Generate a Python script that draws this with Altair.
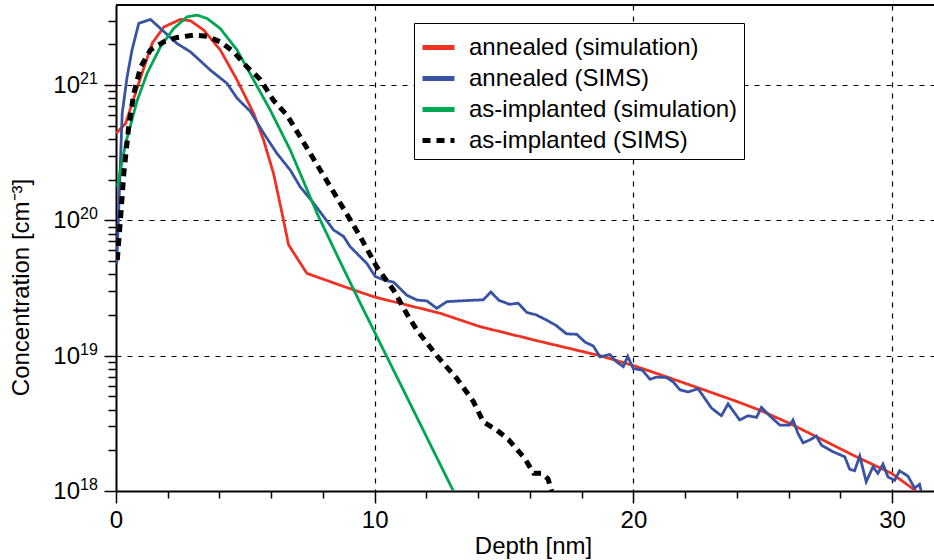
import altair as alt
import pandas as pd

# ---------------- data ----------------
series_names = ["annealed (simulation)", "annealed (SIMS)",
                "as-implanted (simulation)", "as-implanted (SIMS)"]
series_colors = ["#ed3224", "#3953a4", "#00a651", "#000000"]
series_dashes = [[1, 0], [1, 0], [1, 0], [8, 6]]

red_depth = [0.0, 0.37, 0.62, 1.01, 1.40, 1.85, 2.49, 2.88, 3.39, 4.03, 4.68,
             5.32, 5.71, 6.09, 6.42, 6.67, 7.38, 8.7, 9.98, 12.53, 14.07, 16.5,
             18.71, 19.97, 21.28, 22.57, 23.85, 24.88, 26.04, 27.2, 28.49,
             29.98, 30.93]
red_conc = [4.4e20, 5.2e20, 7.3e20, 1.23e21, 2.04e21, 2.69e21, 3.06e21,
            2.99e21, 2.55e21, 1.82e21, 1.09e21, 6.2e20, 3.9e20, 2.22e20,
            1.13e20, 6.6e19, 4.06e19, 3.3e19, 2.72e19, 2.06e19, 1.64e19,
            1.26e19, 1.0e19, 8.5e18, 6.98e18, 5.73e18, 4.7e18, 3.96e18,
            3.16e18, 2.45e18, 1.84e18, 1.35e18, 1.0e18]

blue_depth = [0.03, 0.24, 0.43, 0.62, 0.88, 1.33, 1.72, 2.36, 2.88, 3.65, 4.29,
              4.68, 5.19, 5.71, 6.22, 6.74, 7.12, 7.64, 8.41, 8.8, 9.05, 9.7,
              10.02, 10.4, 10.73, 11.24, 11.63, 12.02, 12.4, 12.79, 13.43,
              14.2, 14.49, 14.8, 15.2, 15.55, 15.88, 16.23, 16.65, 17.0, 17.42,
              17.81, 18.13, 18.45, 18.71, 19.09, 19.35, 19.61, 19.78, 19.99,
              20.35, 20.64, 20.9, 21.28, 21.54, 21.8, 22.12, 22.5, 23.02, 23.4,
              23.66, 24.11, 24.43, 24.76, 24.95, 25.27, 25.66, 26.04, 26.17,
              26.36, 26.56, 26.81, 27.07, 27.27, 27.72, 28.17, 28.36, 28.55,
              28.75, 29.0, 29.26, 29.45, 29.65, 29.84, 30.1, 30.29, 30.61,
              30.87, 31.06, 31.13]
blue_conc = [4.8e19, 6.2e20, 1.15e21, 1.82e21, 2.86e21, 3.06e21, 2.62e21,
             2.03e21, 1.76e21, 1.29e21, 1.03e21, 8.0e20, 6.4e20, 4.4e20,
             3.13e20, 2.35e20, 1.77e20, 1.34e20, 8.5e19, 7.6e19, 6.4e19,
             4.8e19, 3.85e19, 3.6e19, 3.5e19, 2.8e19, 2.58e19, 2.54e19,
             2.24e19, 2.51e19, 2.55e19, 2.59e19, 2.96e19, 2.57e19, 2.4e19,
             2.44e19, 2.09e19, 2.01e19, 1.83e19, 1.68e19, 1.45e19, 1.44e19,
             1.26e19, 1.18e19, 9.8e18, 1.02e19, 9.0e18, 8.3e18, 9.9e18,
             8.05e18, 7.8e18, 6.7e18, 6.95e18, 6.9e18, 6.4e18, 5.6e18, 5.4e18,
             5.7e18, 4.1e18, 3.6e18, 4.4e18, 3.35e18, 3.6e18, 3.5e18, 4.15e18,
             3.6e18, 3.07e18, 3.07e18, 3.35e18, 2.67e18, 2.27e18, 2.38e18,
             2.55e18, 2.18e18, 1.95e18, 1.79e18, 1.45e18, 1.41e18, 1.81e18,
             1.17e18, 1.51e18, 1.35e18, 1.58e18, 1.27e18, 1.2e18, 1.41e18,
             1.29e18, 1.05e18, 1.12e18, 9.9e17]

green_depth = [0.05, 0.37, 0.82, 1.2, 1.72, 2.23, 2.75, 3.14, 3.52, 4.03, 4.68,
               5.32, 5.97, 6.74, 7.77, 8.6, 9.44, 11.11, 13.04]
green_conc = [1.78e20, 3.7e20, 7.7e20, 1.22e21, 1.92e21, 2.62e21, 3.2e21,
              3.29e21, 3.11e21, 2.62e21, 1.82e21, 1.09e21, 6.5e20, 3.3e20,
              1.13e20, 5.25e19, 2.45e19, 5.57e18, 1.0e18]

black_depth = [0.05, 0.17, 0.3, 0.49, 0.69, 0.95, 1.33, 1.85, 2.36, 3.0, 3.52,
               4.03, 4.55, 5.07, 5.58, 6.09, 6.61, 7.12, 7.9, 8.67, 9.44,
               10.09, 10.73, 11.24, 11.63, 12.4, 13.17, 13.81, 14.2, 14.72,
               15.17, 15.8, 16.15, 16.45, 16.7, 16.84]
black_conc = [5.1e19, 1.0e20, 2.2e20, 4.9e20, 8.7e20, 1.36e21, 1.82e21,
              2.09e21, 2.25e21, 2.34e21, 2.3e21, 2.09e21, 1.76e21, 1.36e21,
              1.1e21, 7.7e20, 6.0e20, 4.15e20, 2.35e20, 1.34e20, 7.6e19,
              4.5e19, 3.05e19, 2.04e19, 1.55e19, 1.0e19, 6.8e18, 4.6e18,
              3.24e18, 2.82e18, 2.4e18, 1.74e18, 1.35e18, 1.35e18, 1.23e18,
              1.0e18]

x_tick_values = [0, 2, 4, 6, 8, 10, 12, 14, 16, 18, 20, 22, 24, 26, 28, 30]
y_tick_values = [1e18, 2e18, 3e18, 4e18, 5e18, 6e18, 7e18, 8e18, 9e18,
                 1e19, 2e19, 3e19, 4e19, 5e19, 6e19, 7e19, 8e19, 9e19,
                 1e20, 2e20, 3e20, 4e20, 5e20, 6e20, 7e20, 8e20, 9e20,
                 1e21, 2e21, 3e21]
y_label_values = [1e18, 1e19, 1e20, 1e21]
y_label_base = ["10", "10", "10", "10"]
y_label_exp = ["18", "19", "20", "21"]

# ---------------- build tables ----------------
rows = []
for name, xs, ys in zip(series_names,
                        [red_depth, blue_depth, green_depth, black_depth],
                        [red_conc, blue_conc, green_conc, black_conc]):
    for i, (x, y) in enumerate(zip(xs, ys)):
        rows.append({"series": name, "depth": x, "conc": y, "idx": i})
df = pd.DataFrame(rows)

labels_df = pd.DataFrame({"conc": y_label_values, "base": y_label_base,
                          "exp": y_label_exp})

W, H = 818, 486
FONT = "Liberation Sans"

xscale = alt.Scale(domain=[0, 31.62], nice=False, zero=False)
yscale = alt.Scale(type="log", domain=[1e18, 3.91e21], nice=False)

major_x = "datum.value % 10 == 0"
major_y = "abs(log(datum.value)/LN10 - round(log(datum.value)/LN10)) < 0.001"

x_axis = alt.Axis(
    values=x_tick_values, title="Depth [nm]",
    labelExpr="datum.value % 10 == 0 ? datum.label : ''",
    tickSize={"condition": {"test": major_x, "value": 12}, "value": 7},
    grid=True,
    gridOpacity={"condition": {"test": major_x + " && datum.value > 0", "value": 1}, "value": 0},
    gridDash=[5, 6], gridColor="black", gridWidth=1.2,
    domainColor="black", domainWidth=2, tickColor="black", tickWidth=1.5,
    labelFont=FONT, labelFontSize=24, labelColor="black", labelPadding=5,
    titleFont=FONT, titleFontSize=24, titleFontWeight="normal", titleColor="black",
    titlePadding=2, titleX=417, labelFlush=False,
)
y_axis = alt.Axis(
    values=y_tick_values, title="Concentration [cm⁻³]", labels=False,
    tickSize={"condition": {"test": major_y, "value": 12}, "value": 8},
    grid=True,
    gridOpacity={"condition": {"test": major_y + " && datum.value > 2e18", "value": 1}, "value": 0},
    gridDash=[5, 6], gridColor="black", gridWidth=1.2,
    domainColor="black", domainWidth=2, tickColor="black", tickWidth=1.5,
    titleFont=FONT, titleFontSize=24, titleFontWeight="normal", titleColor="black",
    titlePadding=70, titleY=282,
)

legend = alt.Legend(
    orient="none", legendX=298, legendY=18, title=None,
    labelFont=FONT, labelFontSize=24, labelColor="black",
    symbolType="stroke", symbolSize=1024, symbolStrokeWidth=5,
    strokeColor="black", fillColor="white", padding=6,
    rowPadding=0, labelOffset=12, labelLimit=400)

color_enc = alt.Color("series:N",
                      scale=alt.Scale(domain=series_names, range=series_colors),
                      legend=legend)
dash_enc = alt.StrokeDash("series:N",
                          scale=alt.Scale(domain=series_names, range=series_dashes),
                          legend=legend)

base = alt.Chart(df).encode(
    x=alt.X("depth:Q", scale=xscale, axis=x_axis),
    y=alt.Y("conc:Q", scale=yscale, axis=y_axis),
    color=color_enc,
    strokeDash=dash_enc,
    order="idx:Q",
)

solid = base.transform_filter(
    alt.FieldOneOfPredicate(field="series", oneOf=series_names[:3])
).mark_line(clip=True, strokeWidth=2.8)

dashed = base.transform_filter(
    alt.FieldEqualPredicate(field="series", equal=series_names[3])
).mark_line(clip=True, strokeWidth=5)

top_border = alt.Chart(pd.DataFrame({"k": [0]})).mark_rule(
    color="black", strokeWidth=2).encode(
    x=alt.value(0), x2=alt.value(W), y=alt.value(0))

lab_base = alt.Chart(labels_df).mark_text(
    align="right", baseline="middle", font=FONT, fontSize=24, color="black",
    dy=1).encode(
    x=alt.value(-36), y=alt.Y("conc:Q", scale=yscale, axis=y_axis), text="base:N")
lab_exp = alt.Chart(labels_df).mark_text(
    align="left", baseline="middle", font=FONT, fontSize=16, color="black",
    dy=-6).encode(
    x=alt.value(-36), y=alt.Y("conc:Q", scale=yscale, axis=y_axis), text="exp:N")

chart = alt.layer(solid, dashed, top_border, lab_base, lab_exp).properties(
    width=W, height=H,
    autosize=alt.AutoSizeParams(type="none"),
    padding={"left": 116, "top": 5, "right": 0, "bottom": 69},
    background="white",
).configure_view(stroke=None)

chart.save("out.html", embed_options={"renderer": "svg", "actions": False})
